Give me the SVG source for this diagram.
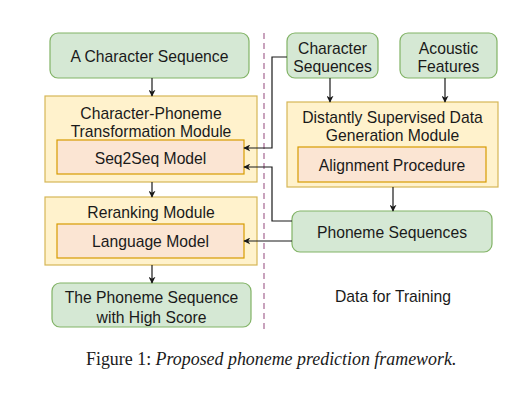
<svg xmlns="http://www.w3.org/2000/svg" width="529" height="410" viewBox="0 0 529 410">
<style>
.g{fill:#d5e8d4;stroke:#82b366;stroke-width:1.2}
.m{fill:#fff2cc;stroke:#d6b656;stroke-width:1.2}
.i{fill:#fbe5d3;stroke:#d79b00;stroke-width:1.2}
text{font-family:"Liberation Sans",Arial,sans-serif;font-size:15.7px;fill:#1a1a1a;text-anchor:middle;dominant-baseline:central}
.c{fill:none;stroke:#1a1a1a;stroke-width:1.2}
.cap{font-family:"Liberation Serif","Times New Roman",serif;font-size:17.9px;text-anchor:start;dominant-baseline:alphabetic}
</style>
<defs>
<marker id="a" viewBox="0 0 10 10" refX="9" refY="5" markerWidth="7" markerHeight="7" orient="auto" markerUnits="userSpaceOnUse">
<path d="M0,0 L10,5 L0,10 L3,5 Z" fill="#1a1a1a"/>
</marker>
</defs>
<rect width="529" height="410" fill="#ffffff"/>
<line x1="264" y1="33" x2="264" y2="330" stroke="#c9a3bd" stroke-width="2" stroke-dasharray="6,4"/>
<g id="n1"><rect class="g" x="50" y="33" width="199" height="45" rx="8"/><text x="149.5" y="56">A Character Sequence</text></g>
<g id="n2"><rect class="m" x="45" y="96" width="212" height="86"/><text x="151" y="113">Character-Phoneme</text><text x="151" y="131">Transformation Module</text></g>
<g id="n3"><rect class="i" x="57" y="140" width="187" height="34"/><text x="150.5" y="158">Seq2Seq Model</text></g>
<g id="n4"><rect class="m" x="45" y="197" width="212" height="68"/><text x="151" y="212">Reranking Module</text></g>
<g id="n5"><rect class="i" x="57" y="224" width="187" height="34"/><text x="150.5" y="241">Language Model</text></g>
<g id="n6"><rect class="g" x="52" y="283" width="199" height="44" rx="8"/><text x="151.5" y="297">The Phoneme Sequence</text><text x="151.5" y="317">with High Score</text></g>
<g id="n7"><rect class="g" x="287" y="33" width="91" height="45" rx="8"/><text x="332.5" y="48">Character</text><text x="332.5" y="66">Sequences</text></g>
<g id="n8"><rect class="g" x="400" y="33" width="97" height="45" rx="8"/><text x="448.5" y="48">Acoustic</text><text x="448.5" y="66">Features</text></g>
<g id="n9"><rect class="m" x="287" y="102" width="211" height="85"/><text x="392.5" y="117">Distantly Supervised Data</text><text x="392.5" y="135">Generation Module</text></g>
<g id="n10"><rect class="i" x="298" y="147" width="188" height="35"/><text x="392" y="165">Alignment Procedure</text></g>
<g id="n11"><rect class="g" x="292" y="211" width="200" height="41" rx="8"/><text x="392" y="232">Phoneme Sequences</text></g>
<g id="n12"><text x="393" y="296">Data for Training</text></g>
<g id="connectors">
<path class="c" d="M152,78 V96" marker-end="url(#a)"/>
<path class="c" d="M152,182 V197" marker-end="url(#a)"/>
<path class="c" d="M152,265 V283" marker-end="url(#a)"/>
<path class="c" d="M330,78 V102" marker-end="url(#a)"/>
<path class="c" d="M445,78 V102" marker-end="url(#a)"/>
<path class="c" d="M393,187 V211" marker-end="url(#a)"/>
<path class="c" d="M287,57 H272 V148 H244" marker-end="url(#a)"/>
<path class="c" d="M292,221 H272 V167 H244" marker-end="url(#a)"/>
<path class="c" d="M292,241 H244" marker-end="url(#a)"/>
</g>
<text class="cap" x="86" y="365">Figure 1: <tspan font-style="italic">Proposed phoneme prediction framework.</tspan></text>
</svg>
